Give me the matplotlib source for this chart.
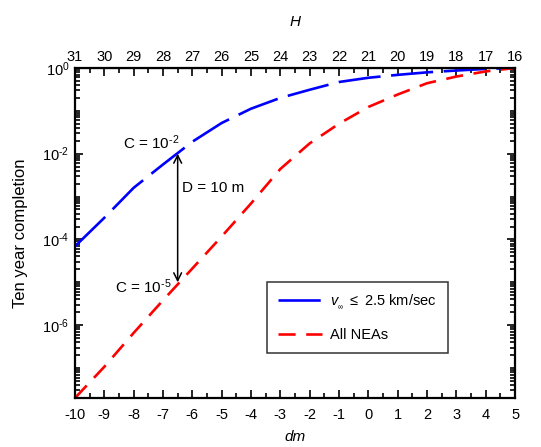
import matplotlib
matplotlib.use("Agg")
import matplotlib.pyplot as plt
import matplotlib.ticker as mticker
import numpy as np

plt.rcParams["font.family"] = ["Liberation Sans", "DejaVu Sans"]
plt.rcParams["mathtext.fontset"] = "custom"
plt.rcParams["mathtext.rm"] = "Liberation Sans"
plt.rcParams["mathtext.it"] = "Liberation Sans:italic"
plt.rcParams["axes.unicode_minus"] = False

# distance modulus dm and ten-year completion
dm = [-10, -9, -8, -7, -6, -5, -4, -3, -2, -1, 0, 1, 2, 3, 4, 5]
slow_neas = [6.9e-5, 3.2e-4, 1.6e-3, 5.6e-3, 1.9e-2, 5.2e-2, 0.112, 0.20,
             0.31, 0.47, 0.59, 0.69, 0.79, 0.87, 0.95, 1.0]
all_neas = [2.0e-8, 1.07e-7, 6.6e-7, 3.8e-6, 2.1e-5, 1.17e-4, 6.9e-4, 4.4e-3,
            1.74e-2, 5.0e-2, 0.123, 0.24, 0.44, 0.63, 0.83, 1.0]

# D = 10 m marker
d10_dm = -6.5
d10_c = [1e-2, 1e-5]

H_ticks = list(range(16, 32))
BLUE = "#0000ff"
RED = "#ff0000"


def pow10(e):
    # hyphen instead of the long math minus, like the original
    if e < 0:
        return r"10$^{\text{-}%d}$" % -e
    return r"10$^{%d}$" % e


fig = plt.figure(figsize=(5.41, 4.47), dpi=100)
ax = fig.add_axes([0.1386, 0.1096, 0.8134, 0.7384])

ax.plot(dm, slow_neas, color=BLUE, lw=1.9, dashes=(16, 4),
        label=r"$v_{_\infty}$ $\leq$ 2.5 km/sec")
ax.plot(dm, all_neas, color=RED, lw=1.9, dashes=(6.5, 4),
        label="All NEAs")

ax.annotate("", xy=(d10_dm, d10_c[0]), xytext=(d10_dm, d10_c[1]),
            arrowprops=dict(arrowstyle="<->", color="black", lw=1.1,
                            mutation_scale=14, shrinkA=0, shrinkB=0))
ax.text(d10_dm + 0.15, 10 ** -2.8, "D = 10 m", fontsize=11, va="center", ha="left")
ax.text(d10_dm + 0.05, 10 ** -1.74, "C = " + pow10(-2), fontsize=11, va="center", ha="right")
ax.text(d10_dm - 0.2, 10 ** -5.1, "C = " + pow10(-5), fontsize=11, va="center", ha="right")

ax.set_yscale("log")
ax.set_xlim(-10, 5)
ax.set_ylim(2e-8, 1)

ax.xaxis.set_major_locator(mticker.MultipleLocator(1))
ax.xaxis.set_minor_locator(mticker.MultipleLocator(0.5))
ax.set_xticklabels([], minor=True)

major_y = [1e0, 1e-2, 1e-4, 1e-6]
minor_y = [m * 10.0 ** e for e in range(-8, 0) for m in range(1, 10)
           if m * 10.0 ** e not in major_y and m * 10.0 ** e >= 2e-8]
ax.yaxis.set_major_locator(mticker.FixedLocator(major_y))
ax.yaxis.set_minor_locator(mticker.FixedLocator(minor_y))
ax.yaxis.set_major_formatter(mticker.FuncFormatter(
    lambda v, p: pow10(round(np.log10(v)))))
ax.yaxis.set_minor_formatter(mticker.NullFormatter())

ax.tick_params(which="both", direction="in", right=True, width=1.2,
               labelsize=10.5)
ax.tick_params(which="major", length=6)
ax.tick_params(which="minor", length=3.5)
ax.tick_params(axis="x", which="both", top=False, pad=7)
ax.tick_params(axis="y", pad=4)
for s in ax.spines.values():
    s.set_linewidth(1.6)

top = ax.secondary_xaxis("top", functions=(lambda x: 21 - x, lambda h: 21 - h))
top.xaxis.set_major_locator(mticker.FixedLocator(H_ticks))
top.xaxis.set_minor_locator(mticker.MultipleLocator(0.5))
top.tick_params(which="both", direction="in", width=1.2, labelsize=10.5, pad=3)
top.tick_params(which="major", length=6)
top.tick_params(which="minor", length=3.5)
top.set_xlabel("H", fontstyle="italic", fontsize=11, labelpad=17)

ax.set_xlabel("dm", fontstyle="italic", fontsize=11, labelpad=6)
ax.set_ylabel("Ten year completion", fontsize=12, labelpad=10)

leg = ax.legend(loc="upper left", bbox_to_anchor=(0.436, 0.352), fontsize=10.5,
                frameon=True, fancybox=False, edgecolor="black",
                handlelength=3.0, borderpad=0.75, labelspacing=1.15,
                handletextpad=0.6, borderaxespad=0)
leg.get_frame().set_linewidth(1.1)

fig.savefig("out.png", dpi=100)
